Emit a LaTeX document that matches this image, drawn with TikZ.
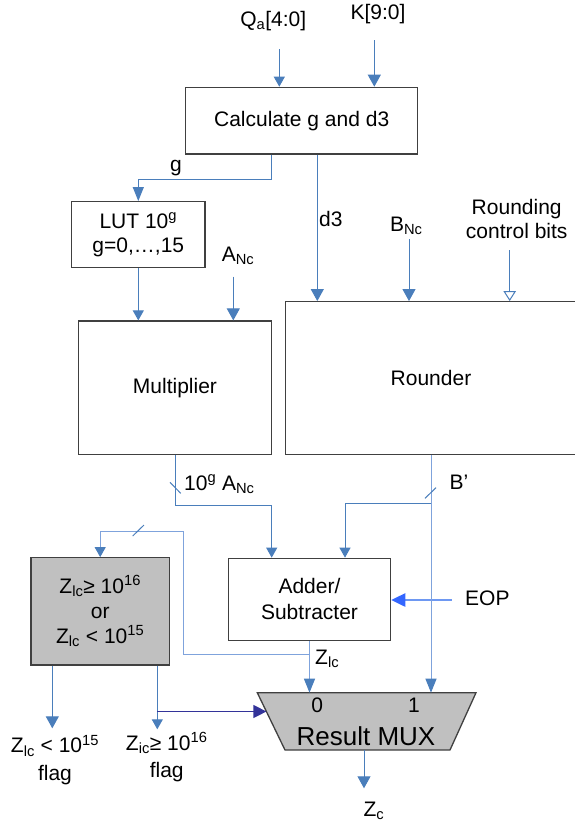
\documentclass[tikz,border=0pt]{standalone}
\usepackage{fontspec}
\setmainfont{Liberation Sans}
\usetikzlibrary{arrows.meta}
\definecolor{sigblue}{HTML}{4A7EBB}
\definecolor{siglight}{HTML}{7FA3DC}
\definecolor{eopblue}{HTML}{3366FF}
\definecolor{eopline}{HTML}{6E98F2}
\definecolor{selnavy}{HTML}{333399}
\definecolor{edgegray}{HTML}{404040}
\definecolor{testgray}{HTML}{C0C0C0}
\newcommand\diagfont{\fontsize{21}{24}\selectfont}
\newcommand\muxfont{\fontsize{26}{30}\selectfont}
\begin{document}
\begin{tikzpicture}[x=1pt,y=-1pt,
  every node/.style={inner sep=0pt},
  blk/.style={draw=edgegray, line width=1.3pt, fill=white, font=\diagfont, align=center},
  testblk/.style={blk, fill=testgray, font=\fontsize{21}{25}\selectfont},
  lbl/.style={font=\diagfont, anchor=base},
  lblw/.style={font=\diagfont, anchor=base west},
  wire/.style={draw=sigblue, line width=1pt},
  arr/.style={wire, -{Triangle[length=10pt,width=11pt,color=sigblue]}},
  arrlong/.style={wire, -{Triangle[length=14pt,width=11pt,color=sigblue]}},
  arrbig/.style={wire, -{Triangle[length=12pt,width=13pt,color=sigblue]}},
  arropen/.style={wire, -{Triangle[open,length=10pt,width=12.5pt]}},
  arreop/.style={draw=eopline, line width=1.2pt, -{Triangle[length=14pt,width=13.5pt,color=eopblue]}},
  arrsel/.style={draw=selnavy, line width=1.2pt, -{Triangle[length=13pt,width=13pt]}},
  light/.style={draw=siglight},
  bus/.style={draw=sigblue, line width=1pt}
]
\useasboundingbox (0,0) rectangle (574,823);

% ---------- blocks ----------
\node[blk, minimum width=232pt, minimum height=66.7pt] (calc) at (301.7,120.7) {Calculate g and d3};
\node[blk, minimum width=133.3pt, minimum height=66pt] (lut) at (138.3,234.7)
  {LUT 10\textsuperscript{g}\\g=0,\dots,15};
\node[blk, minimum width=193.4pt, minimum height=133.3pt] (mult) at (175,387.7) {Multiplier};
\node[blk, minimum width=290.6pt, minimum height=152.6pt] (round) at (431,378) {Rounder};
\node[blk, minimum width=162.4pt, minimum height=82.2pt, font=\fontsize{21}{26}\selectfont] (adder) at (309.5,599.4)
  {Adder/\\Subtracter};
\node[testblk, minimum width=138.3pt, minimum height=107.3pt] (range) at (100.2,611.4)
  {Z\textsubscript{lc}≥ 10\textsuperscript{16}\\or\\Z\textsubscript{lc} < 10\textsuperscript{15}};

% result multiplexer
\draw[draw=edgegray, line width=1.3pt, fill=testgray]
  (257.3,692.7) -- (476,692.7) -- (450,750) -- (285,750) -- cycle;
\coordinate (muxin0) at (309.5,692.7);
\coordinate (muxin1) at (431,692.7);
\coordinate (muxsel) at (266.4,711.5);
\coordinate (muxout) at (364,750);
\node[font=\diagfont, anchor=base] (sel0) at (317.3,712.7) {0};
\node[font=\diagfont, anchor=base] (sel1) at (414,712.7) {1};
\node[font=\muxfont, anchor=base] (muxname) at (366,745) {Result MUX};

% ---------- inputs ----------
\coordinate (qa) at (279.3,49);
\coordinate (k) at (374.3,40);
\coordinate (anc) at (233.3,276.7);
\coordinate (bnc) at (409,239);
\coordinate (rcb) at (509.7,250);
\coordinate (eop) at (451.7,600);

\node[lbl] (qalbl) at (273.3,26.5) {Q\textsubscript{a}[4:0]};
\node[lbl] (klbl) at (378,19.3) {K[9:0]};
\node[lbl] (anclbl) at (238,261) {A\textsubscript{Nc}};
\node[lbl] (bnclbl) at (406.3,231) {B\textsubscript{Nc}};
\node[lbl] (rcb1) at (516.7,214) {Rounding};
\node[lbl] (rcb2) at (516.7,238.3) {control bits};
\node[lblw] (eoplbl) at (465,605) {EOP};

\draw[arr] (qa) -- (qa |- calc.north);
\draw[arrbig] (k) -- (k |- calc.north);
\draw[arrbig] (anc) -- (anc |- mult.north);
\draw[arrbig] (bnc) -- (bnc |- round.north);
\draw[arropen] (rcb) -- (rcb |- round.north);
\draw[arreop] (eop) -- (eop -| adder.east);

% ---------- g and d3 ----------
\coordinate (gout) at ([xshift=-30pt]calc.south);
\coordinate (d3out) at ([xshift=15.6pt]calc.south);
\draw[arrlong] (gout) -- ++(0,24.3) -| (lut.north);
\node[lbl] (glbl) at (176,171.8) {g};
\draw[arrbig] (d3out) -- (d3out |- round.north);
\node[lbl] (d3lbl) at (330.8,226.7) {d3};
\draw[arr] (lut.south) -- (lut.south |- mult.north);

% ---------- product and rounded operand ----------
\coordinate (prodbend) at (271.7,505);
\draw[arr] (mult.south) |- (prodbend) -- (prodbend |- adder.north);
\draw[bus] (170,482.3) -- (180.7,493.3);
\node[lblw] (prodlbl) at (184,490) {10\textsuperscript{g} A\textsubscript{Nc}};

\coordinate (bbend) at (345,503.3);
\draw[arrlong, light] (round.south) -- (muxin1);
\draw[arr] (round.south |- bbend) -- (bbend) -- (bbend |- adder.north);
\draw[bus] (425,498.3) -- (436,487.7);
\node[lblw] (bplbl) at (449.3,489.3) {B’};

% ---------- sum, range check and selection ----------
\draw[arrlong, light] (adder.south) -- (muxin0);
\node[lblw] (zlclbl) at (315,664.3) {Z\textsubscript{lc}};
\coordinate (fbtap) at (309.5,654.3);
\coordinate (fbcorner) at (183.3,531);
\draw[arr, light] (fbtap) -| (fbcorner) -| (range.north);
\draw[bus] (132.7,536) -- (144,525);

\coordinate (flaglo) at (52.3,728.3);
\coordinate (flaghi) at (157.3,729.3);
\draw[arrbig] (range.south -| flaglo) -- (flaglo);
\draw[arr] (range.south -| flaghi) -- (flaghi);
\draw[arrsel] (flaghi |- muxsel) -- (muxsel);

\node[lbl] (lo1) at (55,752.7) {Z\textsubscript{lc} < 10\textsuperscript{15}};
\node[lbl] (lo2) at (55,780) {flag};
\node[lbl] (hi1) at (166.7,750) {Z\textsubscript{ic}≥ 10\textsuperscript{16}};
\node[lbl] (hi2) at (166.7,777.3) {flag};

\coordinate (zc) at (364,788.3);
\draw[arrbig] (muxout) -- (zc);
\node[lblw] (zclbl) at (363.3,816.7) {Z\textsubscript{c}};
\end{tikzpicture}
\end{document}
